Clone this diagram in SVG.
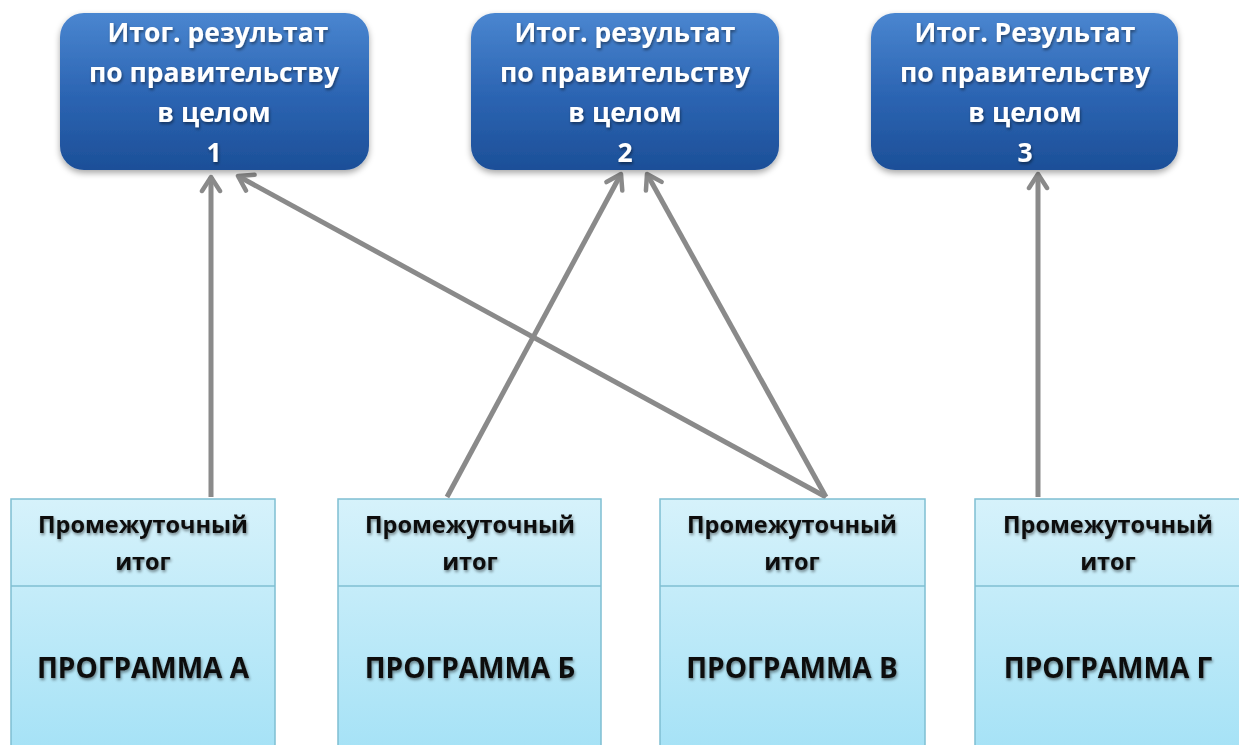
<svg xmlns="http://www.w3.org/2000/svg" width="1239" height="745" viewBox="0 0 1239 745">
<defs>
<linearGradient id="gBlue" x1="0" y1="0" x2="0" y2="1">
<stop offset="0" stop-color="#4a86d0"/>
<stop offset="0.5" stop-color="#2d66b4"/>
<stop offset="1" stop-color="#1c4f98"/>
</linearGradient>
<linearGradient id="gCyan" x1="0" y1="0" x2="0" y2="1">
<stop offset="0" stop-color="#d6f2fb"/>
<stop offset="1" stop-color="#a6e2f6"/>
</linearGradient>
<filter id="shadow" x="-10%" y="-10%" width="120%" height="130%">
<feDropShadow dx="0" dy="3" stdDeviation="3" flood-color="#000" flood-opacity="0.35"/>
</filter>
<filter id="tshadow" x="-10%" y="-30%" width="120%" height="160%">
<feDropShadow dx="1" dy="2" stdDeviation="1.5" flood-color="#000" flood-opacity="0.45"/>
</filter>
<marker id="arr" viewBox="0 0 24 24" refX="20" refY="12" markerWidth="24" markerHeight="24" markerUnits="userSpaceOnUse" orient="auto">
<path d="M6,3 L20,12 L6,21" fill="none" stroke="#8a8a8a" stroke-width="4.5" stroke-linecap="round" stroke-linejoin="round"/>
</marker>
<style>
.top{fill:url(#gBlue);filter:url(#shadow)}
.tt{font-family:"Open Sans","Liberation Sans",sans-serif;font-weight:bold;font-size:26.5px;fill:#ffffff;text-anchor:middle;filter:url(#tshadow)}
.bot{fill:url(#gCyan);stroke:#7fbfd2;stroke-width:1.5}
.bt{font-family:"Open Sans","Liberation Sans",sans-serif;font-weight:bold;font-size:23.5px;fill:#111;text-anchor:middle;filter:url(#tshadow)}
.pt{font-family:"Open Sans","Liberation Sans",sans-serif;font-weight:bold;font-size:28px;fill:#111;text-anchor:middle;filter:url(#tshadow)}
.conn{stroke:#8a8a8a;stroke-width:5;fill:none;marker-end:url(#arr)}
</style>
</defs>
<rect width="1239" height="745" fill="#ffffff"/>

<g id="connectors">
<line class="conn" x1="211" y1="497" x2="211" y2="177"/>
<line class="conn" x1="826" y1="497" x2="238" y2="176"/>
<line class="conn" x1="447" y1="497" x2="621" y2="174"/>
<line class="conn" x1="826" y1="497" x2="647" y2="174"/>
<line class="conn" x1="1038" y1="497" x2="1038" y2="174"/>
</g>

<g id="result1">
<rect class="top" x="60" y="13" width="309" height="157" rx="24"/>
<text class="tt" x="218" y="42">Итог. результат</text>
<text class="tt" x="214" y="82">по правительству</text>
<text class="tt" x="214" y="122">в целом</text>
<text class="tt" x="214" y="162">1</text>
</g>
<g id="result2">
<rect class="top" x="471" y="13" width="308" height="157" rx="24"/>
<text class="tt" x="625" y="42">Итог. результат</text>
<text class="tt" x="625" y="82">по правительству</text>
<text class="tt" x="625" y="122">в целом</text>
<text class="tt" x="625" y="162">2</text>
</g>
<g id="result3">
<rect class="top" x="871" y="13" width="307" height="157" rx="24"/>
<text class="tt" x="1025" y="42">Итог. Результат</text>
<text class="tt" x="1025" y="82">по правительству</text>
<text class="tt" x="1025" y="122">в целом</text>
<text class="tt" x="1025" y="162">3</text>
</g>

<g id="progA">
<rect class="bot" x="11" y="499" width="264" height="250"/>
<line x1="11" y1="586" x2="275" y2="586" stroke="#7fbfd2" stroke-width="1.5"/>
<text class="bt" x="143" y="533">Промежуточный</text>
<text class="bt" x="143" y="570">итог</text>
<text class="pt" x="143" y="678">ПРОГРАММА А</text>
</g>
<g id="progB">
<rect class="bot" x="338" y="499" width="263" height="250"/>
<line x1="338" y1="586" x2="601" y2="586" stroke="#7fbfd2" stroke-width="1.5"/>
<text class="bt" x="470" y="533">Промежуточный</text>
<text class="bt" x="470" y="570">итог</text>
<text class="pt" x="470" y="678">ПРОГРАММА Б</text>
</g>
<g id="progV">
<rect class="bot" x="660" y="499" width="265" height="250"/>
<line x1="660" y1="586" x2="925" y2="586" stroke="#7fbfd2" stroke-width="1.5"/>
<text class="bt" x="792" y="533">Промежуточный</text>
<text class="bt" x="792" y="570">итог</text>
<text class="pt" x="792" y="678">ПРОГРАММА В</text>
</g>
<g id="progG">
<rect class="bot" x="975" y="499" width="266" height="250"/>
<line x1="975" y1="586" x2="1241" y2="586" stroke="#7fbfd2" stroke-width="1.5"/>
<text class="bt" x="1108" y="533">Промежуточный</text>
<text class="bt" x="1108" y="570">итог</text>
<text class="pt" x="1108" y="678">ПРОГРАММА Г</text>
</g>
</svg>
